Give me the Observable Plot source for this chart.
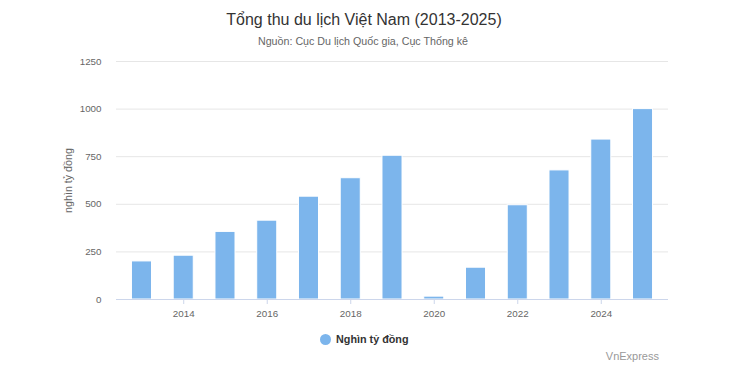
<!DOCTYPE html>
<html>
<head>
<meta charset="utf-8">
<script src="https://cdn.jsdelivr.net/npm/d3@7"></script>
<script src="https://cdn.jsdelivr.net/npm/@observablehq/plot@0.6"></script>
<style>
  html, body { margin: 0; padding: 0; background: #fff; }
  #wrap { position: relative; width: 750px; height: 379px; font-family: "Liberation Sans", Arial, sans-serif; overflow: hidden; }
  #wrap svg { position: absolute; left: 0; top: 0; }
  .abs { position: absolute; white-space: nowrap; line-height: 1; }
  #title { left: 364px; top: 12px; transform: translateX(-50%); font-size: 16px; color: #333; }
  #subtitle { left: 363px; top: 36px; transform: translateX(-50%); font-size: 10.7px; color: #666; }
  #legend { left: 320px; top: 334px; font-size: 10.8px; font-weight: bold; color: #333; display: flex; align-items: center; }
  #legend .dot { width: 11px; height: 11px; border-radius: 50%; background: #7cb5ec; margin-right: 5px; }
  #credit { right: 91px; top: 351px; font-size: 11px; color: #999; }
</style>
</head>
<body>
<div id="wrap">
  <div id="chart"></div>
  <div class="abs" id="title">Tổng thu du lịch Việt Nam (2013-2025)</div>
  <div class="abs" id="subtitle">Nguồn: Cục Du lịch Quốc gia, Cục Thống kê</div>
  <div class="abs" id="legend"><span class="dot"></span><span id="legendText"></span></div>
  <div class="abs" id="credit">VnExpress</div>
</div>
<script>
const years = [2013, 2014, 2015, 2016, 2017, 2018, 2019, 2020, 2021, 2022, 2023, 2024, 2025];
const revenue = [200, 230, 355, 414, 540, 637, 755, 15, 167, 495, 678, 840, 1000];
const seriesName = "Nghìn tỷ đồng";
const yAxisTitle = "nghìn tỷ đồng";
const yTicks = [0, 250, 500, 750, 1000, 1250];
const xTicks = [2014, 2016, 2018, 2020, 2022, 2024];

const data = years.map((y, i) => ({year: y, value: revenue[i]}));
document.getElementById("legendText").textContent = seriesName;

const chart = Plot.plot({
  width: 750,
  height: 379,
  marginTop: 61,
  marginBottom: 80,
  marginLeft: 116,
  marginRight: 82,
  style: {fontFamily: "Liberation Sans, Arial, sans-serif", fontSize: "10px", color: "#666", background: "transparent"},
  x: {type: "band", domain: years, paddingInner: 0.52, paddingOuter: 0.37, round: false, label: null},
  y: {domain: [0, 1250], label: null},
  marks: [
    Plot.gridY(yTicks, {stroke: "#e6e6e6", strokeOpacity: 1, strokeWidth: 1}),
    Plot.barY(data, {x: "year", y: "value", fill: "#7cb5ec", stroke: "#fff", strokeWidth: 1}),
    Plot.ruleY([0], {stroke: "#ccd6eb", strokeWidth: 1}),
    Plot.axisY(yTicks, {tickSize: 0, tickPadding: 15, fill: "#666", fontSize: 9.8, tickFormat: d3.format("d"), label: null}),
    Plot.axisX(xTicks, {tickSize: 5, stroke: "#ccd6eb", tickPadding: 6, fill: "#666", fontSize: 9.8, tickFormat: d3.format("d"), label: null}),
    Plot.text([yAxisTitle], {frameAnchor: "left", dx: -48, rotate: -90, textAnchor: "middle", fill: "#666", fontSize: 10.7})
  ]
});
document.getElementById("chart").appendChild(chart);
</script>
</body>
</html>
